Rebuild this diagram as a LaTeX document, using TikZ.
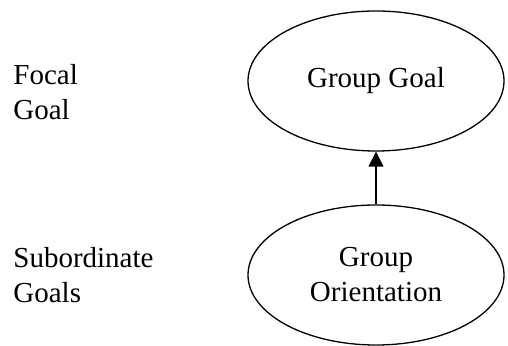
\documentclass[tikz,border=0pt]{standalone}
\usepackage{fontspec}
\setmainfont{Liberation Serif}
\usetikzlibrary{shapes.geometric,arrows.meta}
\begin{document}
\begin{tikzpicture}[x=0.5pt,y=-0.5pt,
  goalnode/.style={draw, ellipse, line width=0.65pt, inner sep=0pt,
    minimum width=128pt, minimum height=70pt, align=center,
    font=\fontsize{14.5}{17.5}\selectfont},
  levellabel/.style={anchor=base west, inner sep=0pt, align=left,
    font=\fontsize{14.5}{17.5}\selectfont},
  link/.style={line width=0.65pt, -{Triangle[width=7.5pt,length=7.5pt]}}]
  \useasboundingbox (0,0) rectangle (508,346);
  % level labels (anchored on the baseline of their last line)
  \node[levellabel] (focal) at (13,120) {Focal\\Goal};
  \node[levellabel] (subord) at (13,303) {Subordinate\\Goals};
  % goal ellipses
  \node[goalnode] (goal) at (376,81) {Group Goal};
  \node[goalnode] (orient) at (376,275) {Group\\Orientation};
  % upward link
  \draw[link] (orient) -- (goal);
\end{tikzpicture}
\end{document}
